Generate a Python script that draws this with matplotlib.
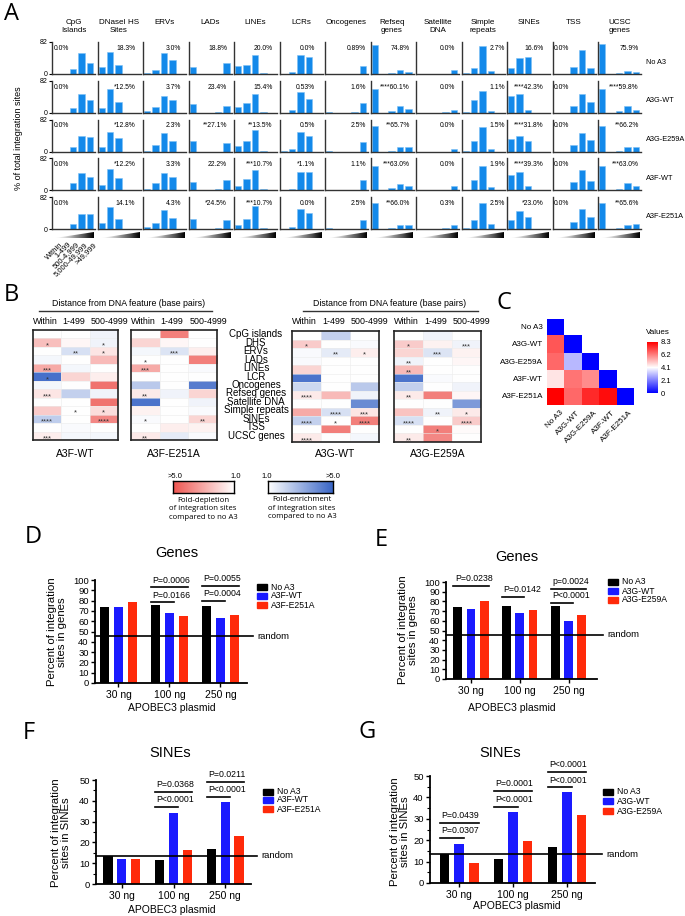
import numpy as np
import matplotlib as mpl
mpl.use('Agg')
import matplotlib.pyplot as plt
from matplotlib.colors import LinearSegmentedColormap
from matplotlib.patches import Polygon, Rectangle
from matplotlib.lines import Line2D

plt.rcParams['font.family'] = ['Liberation Sans', 'DejaVu Sans']

# ---------------- panel A data ----------------
features = ['CpG\nIslands', 'DNaseI HS\nSites', 'ERVs', 'LADs', 'LINEs', 'LCRs', 'Oncogenes',
            'Refseq\ngenes', 'Satellite\nDNA', 'Simple\nrepeats', 'SINEs', 'TSS', 'UCSC\ngenes']
samples_a = ['No A3', 'A3G-WT', 'A3G-E259A', 'A3F-WT', 'A3F-E251A']
dist_bins = ['Within', '1-499', '500-4,999', '5,000-49,999', '>49,999']

no_a3 = [[0, 0, 13, 55, 28], [18.3, 57, 23, 0, 0], [3.0, 9, 53, 36, 0], [18.8, 0, 0, 0, 28],
         [20.0, 23, 49, 3, 0], [0, 6, 49, 43, 0], [0.89, 0, 0, 0, 21], [74.8, 0, 3, 9, 5],
         [0, 0, 0, 0, 9], [2.7, 16, 72, 8, 0], [16.6, 41, 43, 0, 0], [0, 0, 17, 62, 15],
         [75.9, 0, 3, 8, 5]]
a3g_wt = [[0, 0, 13, 47, 32], [12.5, 60, 27, 0, 0], [3.7, 16, 43, 32, 0], [23.4, 0, 0, 3, 18],
          [15.4, 26, 49, 3, 0], [0.53, 7, 54, 35, 0], [1.6, 0, 0, 2, 26], [60.1, 0, 5, 17, 9],
          [0, 0, 0, 2, 7], [1.1, 33, 57, 5, 0], [42.3, 47, 8, 0, 0], [0, 0, 18, 47, 27],
          [59.8, 0, 4, 18, 8]]
a3g_e259a = [[0, 0, 12, 40, 37], [12.8, 51, 34, 0, 0], [2.3, 17, 47, 27, 0], [27.1, 0, 0, 0, 23],
             [13.5, 27, 54, 2, 0], [0.5, 7, 49, 40, 0], [2.5, 0, 0, 0, 24], [65.7, 0, 2, 12, 12],
             [0, 0, 0, 0, 7], [1.5, 26, 62, 7, 0], [31.8, 41, 26, 0, 0], [0, 0, 17, 47, 29],
             [66.2, 0, 2, 12, 12]]
a3f_wt = [[0, 0, 18, 44, 33], [12.2, 55, 31, 0, 0], [3.3, 18, 43, 35, 0], [22.2, 0, 0, 4, 26],
          [10.7, 30, 53, 4, 0], [1.1, 4, 46, 46, 0], [1.1, 0, 0, 0, 27], [63.0, 0, 5, 16, 10],
          [0, 0, 0, 0, 12], [1.9, 25, 62, 8, 0], [39.3, 47, 12, 0, 0], [0, 0, 21, 51, 24],
          [63.0, 0, 4, 18, 10]]
a3f_e251a = [[0, 0, 13, 38, 38], [14.1, 57, 25, 1, 0], [4.3, 16, 48, 29, 0], [24.5, 0, 0, 3, 24],
             [10.7, 26, 58, 3, 0], [0, 5, 51, 41, 0], [2.5, 0, 0, 0, 23], [66.0, 0, 2, 9, 11],
             [0.3, 0, 0, 2, 9], [2.5, 22, 67, 12, 0], [23.0, 47, 31, 0, 0], [0, 0, 18, 50, 30],
             [65.6, 0, 2, 9, 13]]

pct_no_a3 = ['0.0%', '18.3%', '3.0%', '18.8%', '20.0%', '0.0%', '0.89%', '74.8%', '0.0%', '2.7%', '16.6%', '0.0%', '75.9%']
pct_a3g_wt = ['0.0%', '*12.5%', '3.7%', '23.4%', '15.4%', '0.53%', '1.6%', '****60.1%', '0.0%', '1.1%', '****42.3%', '0.0%', '****59.8%']
pct_a3g_e259a = ['0.0%', '*12.8%', '2.3%', '**27.1%', '**13.5%', '0.5%', '2.5%', '**65.7%', '0.0%', '1.5%', '****31.8%', '0.0%', '**66.2%']
pct_a3f_wt = ['0.0%', '*12.2%', '3.3%', '22.2%', '***10.7%', '*1.1%', '1.1%', '***63.0%', '0.0%', '1.9%', '****39.3%', '0.0%', '***63.0%']
pct_a3f_e251a = ['0.0%', '14.1%', '4.3%', '*24.5%', '***10.7%', '0.0%', '2.5%', '**66.0%', '0.3%', '2.5%', '*23.0%', '0.0%', '**65.6%']

# ---------------- panel B data (signed fold change: <0 depletion, >0 enrichment) ----------------
hm_features = ['CpG islands', 'DHS', 'ERVs', 'LADs', 'LINEs', 'LCR', 'Oncogenes', 'Refseq genes',
               'Satellite DNA', 'Simple repeats', 'SINEs', 'TSS', 'UCSC genes']
hm_cols = ['Within', '1-499', '500-4999']
hm_names = ['A3F-WT', 'A3F-E251A', 'A3G-WT', 'A3G-E259A']

fold_a3f_wt = [[1.0, 1.0, 1.3], [-2.5, -1.2, 1.3], [1.0, 1.8, -1.6], [1.2, 1.0, -2.6], [-3.0, 1.2, 1.0],
               [4.7, -2.0, -1.4], [1.2, 1.0, -4.3], [-1.6, 2.2, 1.3], [1.0, 1.0, -4.3], [-2.2, 1.0, -1.8],
               [2.3, 1.0, -3.8], [1.0, 1.1, 1.0], [-1.4, 1.2, 1.2]]
fold_a3f_e251a = [[1.0, -4.0, 1.0], [-2.0, -1.2, 1.0], [1.2, 1.7, -1.4], [1.0, 1.0, -4.0], [-3.0, 1.0, 1.1],
                  [1.0, 1.0, 1.0], [2.4, 1.0, 4.4], [-1.5, 1.3, -2.0], [4.6, 1.0, 1.3], [-1.3, 1.0, 1.1],
                  [1.1, 1.0, -2.0], [1.0, -1.4, -1.3], [-1.5, 1.5, 1.1]]
fold_a3g_wt = [[1.0, 2.2, 1.0], [-2.2, 1.0, 1.1], [1.1, 1.5, -1.4], [1.1, 1.0, 1.0], [-2.0, 1.0, 1.0],
               [4.6, 1.0, 1.0], [2.0, 1.0, 2.4], [-1.5, -2.6, 1.3], [1.0, 1.0, 4.0], [-3.0, 1.8, -1.6],
               [2.2, 1.0, -4.0], [1.0, -4.0, 1.0], [-1.5, 1.0, 1.2]]
fold_a3g_e259a = [[1.0, 1.3, 1.0], [-2.2, -1.3, 1.3], [-2.0, 1.7, -1.3], [1.3, 1.0, -1.2], [-2.6, 1.0, 1.0],
                  [4.6, 1.1, 1.0], [2.2, 1.0, 1.3], [-1.5, -4.0, -1.2], [1.0, 1.0, 3.6], [-2.4, 1.3, -1.5],
                  [1.8, 1.0, -2.2], [1.0, -4.0, -1.1], [-1.5, -3.8, 1.0]]

stars_a3f_wt = [['', '', ''], ['*', '', '*'], ['', '**', '*'], ['', '', ''], ['***', '', ''], ['*', '', ''],
                ['', '', ''], ['***', '', ''], ['', '', ''], ['', '*', '*'], ['****', '', '****'], ['', '', ''],
                ['***', '', '']]
stars_a3f_e251a = [['', '', ''], ['', '', ''], ['', '***', ''], ['*', '', ''], ['***', '', ''], ['', '', ''],
                   ['', '', ''], ['**', '', ''], ['', '', ''], ['', '', ''], ['*', '', '**'], ['', '', ''],
                   ['**', '', '']]
stars_a3g_wt = [['', '', ''], ['*', '', ''], ['', '**', '*'], ['', '', ''], ['', '', ''], ['', '', ''],
                ['', '', ''], ['****', '', ''], ['', '', ''], ['', '****', '***'], ['****', '*', '****'],
                ['', '', ''], ['****', '', '']]
stars_a3g_e259a = [['', '', ''], ['*', '', '***'], ['', '***', ''], ['**', '', ''], ['**', '', ''], ['', '', ''],
                   ['', '', ''], ['**', '', ''], ['', '', ''], ['', '**', '*'], ['****', '', '****'],
                   ['', '*', ''], ['**', '', '']]

# ---------------- panel C data ----------------
c_names = ['No A3', 'A3G-WT', 'A3G-E259A', 'A3F-WT', 'A3F-E251A']
nan = np.nan
c_vals = [[0, nan, nan, nan, nan],
          [6.9, 0, nan, nan, nan],
          [6.6, 3.0, 0, nan, nan],
          [4.6, 6.4, 6.0, 0, nan],
          [8.3, 6.6, 7.6, 8.1, 0]]
c_ticks = [0, 2.1, 4.1, 6.2, 8.3]

# ---------------- panels D-G data ----------------
doses = ['30 ng', '100 ng', '250 ng']
d_noa3 = [74.0, 75.5, 74.8]
d_a3f_wt = [74.0, 67.5, 63.0]
d_a3f_e251a = [79.0, 65.0, 66.0]
e_noa3 = [74.0, 75.5, 74.8]
e_a3g_wt = [72.0, 68.0, 60.1]
e_a3g_e259a = [80.0, 71.5, 65.7]
f_noa3 = [13.6, 11.4, 16.6]
f_a3f_wt = [12.2, 34.3, 39.3]
f_a3f_e251a = [11.8, 16.3, 23.0]
g_noa3 = [13.6, 11.4, 16.6]
g_a3g_wt = [18.1, 33.1, 42.3]
g_a3g_e259a = [9.4, 19.6, 31.8]
random_genes = 45.5
random_sines = 13.5

# (group, compared bar, line height, label)
d_sig = [(1, 'blue', 78.2, 'P=0.0166'), (1, 'red', 92.9, 'P=0.0006'),
         (2, 'blue', 79.9, 'P=0.0004'), (2, 'red', 94.5, 'P=0.0055')]
e_sig = [(0, 'red', 95.9, 'P=0.0238'), (1, 'blue', 84.6, 'P=0.0142'),
         (2, 'blue', 78.8, 'P<0.0001'), (2, 'red', 93.2, 'p=0.0024')]
f_sig = [(1, 'blue', 36.9, 'P<0.0001'), (1, 'red', 44.1, 'P=0.0368'),
         (2, 'blue', 42.0, 'P<0.0001'), (2, 'red', 49.2, 'P=0.0211')]
g_sig = [(0, 'blue', 21.0, 'P=0.0307'), (0, 'red', 28.0, 'P=0.0439'),
         (1, 'blue', 35.7, 'P<0.0001'), (1, 'red', 43.2, 'P=0.0001'),
         (2, 'blue', 44.7, 'P<0.0001'), (2, 'red', 52.0, 'P<0.0001')]

# ================================================================
W, H = 685, 916
fig = plt.figure(figsize=(W / 100, H / 100), dpi=100)


def add_ax(x0, y0, x1, y1):
    return fig.add_axes([x0 / W, 1 - y1 / H, (x1 - x0) / W, (y1 - y0) / H])


def ftext(x, y, s, **kw):
    return fig.text(x / W, 1 - y / H, s, **kw)


def fline(x0, x1, y, lw=1.0, color='#333333'):
    fig.add_artist(Line2D([x0 / W, x1 / W], [1 - y / H, 1 - y / H], color=color, lw=lw))


letter_font = ['Open Sans', 'Liberation Sans']
for lab, x, y in [('A', 4, 14), ('B', 4, 295), ('C', 497, 303), ('D', 25, 537),
                  ('E', 375, 540), ('F', 23, 733), ('G', 358, 732)]:
    ftext(x, y, lab, fontsize=17, va='center', ha='left', family=letter_font)

# ---------------- panel A ----------------
bar_blue = '#1389ea'
a_rows = [no_a3, a3g_wt, a3g_e259a, a3f_wt, a3f_e251a]
a_labels = [pct_no_a3, pct_a3g_wt, pct_a3g_e259a, pct_a3f_wt, pct_a3f_e251a]
lab_x = [0.05, 0.88, 0.88, 0.9, 0.9, 0.82, 0.95, 0.92, 0.92, 1.02, 0.85, 0.02, 0.95]
lab_ha = ['left'] + ['right'] * 10 + ['left', 'right']

for j, f in enumerate(features):
    left = 52 + j * 45.5
    ftext(left + 21.5, 19, f, ha='center', va='top', fontsize=5.8, linespacing=1.15)

for i, (vals, labs) in enumerate(zip(a_rows, a_labels)):
    top = 42 + i * 38.75
    ftext(646, top + 20, samples_a[i], ha='left', va='center', fontsize=5.3)
    for j in range(13):
        left = 52 + j * 45.5
        ax = add_ax(left, top, left + 43, top + 32)
        ax.bar(range(5), vals[j], width=0.75, color=bar_blue, edgecolor='#7cc0f5', linewidth=0.4)
        ax.set_xlim(-0.5, 4.6)
        ax.set_ylim(0, 82)
        for s in ['top', 'right']:
            ax.spines[s].set_visible(False)
        for s in ['left', 'bottom']:
            ax.spines[s].set_linewidth(1.0)
            ax.spines[s].set_color('#333333')
        ax.set_xticks([])
        if j == 0:
            ax.set_yticks([0, 82])
            ax.tick_params(axis='y', labelsize=5, length=2, width=0.8, pad=1)
        else:
            ax.set_yticks([])
        ax.text(lab_x[j], 0.8, labs[j], transform=ax.transAxes, ha=lab_ha[j], va='center',
                fontsize=4.9, clip_on=False)

ftext(19, 138, '% of total integration sites', rotation=90, ha='center', va='center', fontsize=6.5)

# gradient wedges under last row
grad = np.linspace(0, 1, 200)[None, :]
for j in range(13):
    left = 52 + j * 45.5
    wax = add_ax(left + 3, 232, left + 42, 238)
    im = wax.imshow(grad, cmap='Greys', aspect='auto', extent=[0, 1, 0, 1], vmin=0, vmax=1)
    tri = Polygon([[0, 0], [1, 0], [1, 1]], closed=True, transform=wax.transData)
    im.set_clip_path(tri)
    wax.axis('off')

for k, b in enumerate(dist_bins):
    cx = 52 + (k + 0.5) * 8.4
    ftext(cx + 3, 241, b, rotation=45, rotation_mode='anchor', ha='right', va='top', fontsize=5.5)

# ---------------- panel B ----------------
fold_cmap = LinearSegmentedColormap.from_list('fold', ['#ee5550', '#ffffff', '#3a66c6'])
hm_boxes = [(33, 330, 118, 440), (131, 330, 217, 440), (292, 331, 379, 442), (394, 331, 481, 442)]
hm_vals = [fold_a3f_wt, fold_a3f_e251a, fold_a3g_wt, fold_a3g_e259a]
hm_stars = [stars_a3f_wt, stars_a3f_e251a, stars_a3g_wt, stars_a3g_e259a]

for (x0, y0, x1, y1), vals, stars, name in zip(hm_boxes, hm_vals, hm_stars, hm_names):
    ax = add_ax(x0, y0, x1, y1)
    arr = np.array(vals)
    t = np.sign(arr) * np.clip((np.abs(arr) - 1) / 4.0, 0, 1)
    ax.imshow(t, cmap=fold_cmap, vmin=-1, vmax=1, aspect='auto', extent=[0, 3, 13, 0],
              interpolation='nearest')
    for k in range(1, 13):
        ax.axhline(k, color='#ececec', lw=0.4)
    for k in (1, 2):
        ax.axvline(k, color='#ececec', lw=0.4)
    for r in range(13):
        for c in range(3):
            if stars[r][c]:
                ax.text(c + 0.5, r + 0.85, stars[r][c], ha='center', va='center', fontsize=5.5,
                        color='#333333')
    ax.set_xlim(0, 3)
    ax.set_ylim(13, 0)
    ax.set_xticks([])
    ax.set_yticks([])
    for s in ax.spines.values():
        s.set_linewidth(1.2)
        s.set_color('#222222')
    cw = (x1 - x0) / 3.0
    for c, h in enumerate(hm_cols):
        ftext(x0 + c * cw + (0 if c == 0 else 1), 322, h, ha='left', va='center', fontsize=6.4)
    ftext((x0 + x1) / 2, 454, name, ha='center', va='center', fontsize=7.5)

for r, f in enumerate(hm_features):
    ftext(256, 330 + (r + 0.5) * 110 / 13.0, f, ha='center', va='center', fontsize=7)

ftext(129, 303, 'Distance from DNA feature (base pairs)', ha='center', va='center', fontsize=6.3)
fline(39, 212, 311, lw=1.0)
ftext(390, 303, 'Distance from DNA feature (base pairs)', ha='center', va='center', fontsize=6.3)
fline(303, 478, 311, lw=1.0)

# fold legend boxes
lax = add_ax(173, 481, 234, 493)
lax.imshow(np.linspace(-1, 0, 200)[None, :], cmap=fold_cmap, vmin=-1, vmax=1, aspect='auto')
rax = add_ax(268, 481, 333, 493)
rax.imshow(np.linspace(0, 1, 200)[None, :], cmap=fold_cmap, vmin=-1, vmax=1, aspect='auto')
for a in (lax, rax):
    a.set_xticks([])
    a.set_yticks([])
    for s in a.spines.values():
        s.set_linewidth(1.0)
for x, s in [(175, '>5.0'), (236, '1.0'), (267, '1.0'), (333, '>5.0')]:
    ftext(x, 476, s, ha='center', va='center', fontsize=5.5)
ftext(203, 497, 'Fold-depletion\nof integration sites\ncompared to no A3', ha='center', va='top',
      fontsize=5.6, linespacing=1.3, family=letter_font)
ftext(302, 496, 'Fold-enrichment\nof integration sites\ncompared to no A3', ha='center', va='top',
      fontsize=5.6, linespacing=1.3, family=letter_font)

# ---------------- panel C ----------------
c_cmap = LinearSegmentedColormap.from_list('cvals', ['#0000ff', '#ffffff', '#ff0000'])
cs = 17.3
c_ax = add_ax(547, 319, 547 + 5 * cs, 319 + 5 * cs)
cim = c_ax.imshow(np.ma.masked_invalid(np.array(c_vals)), cmap=c_cmap, vmin=0, vmax=8.3,
                  extent=[0, 5, 5, 0], interpolation='nearest')
c_ax.axis('off')
for i, n in enumerate(c_names):
    ftext(543, 319 + (i + 0.5) * cs, n, ha='right', va='center', fontsize=5.8)
    ftext(547 + (i + 0.5) * cs + 4, 409, n, rotation=45, rotation_mode='anchor', ha='right',
          va='top', fontsize=5.8)
cb_ax = add_ax(647, 342, 658, 393)
cb = fig.colorbar(cim, cax=cb_ax, ticks=c_ticks)
cb.outline.set_visible(False)
cb_ax.tick_params(length=0, labelsize=5.5, pad=2)
cb_ax.set_yticklabels(['0', '2.1', '4.1', '6.2', '8.3'])
ftext(646, 333, 'Values', ha='left', va='center', fontsize=5.8)

# ---------------- panels D-G ----------------
c_black, c_blue, c_red = '#000000', '#1a1aff', '#ff2a0a'
off, bw = 0.27, 0.18


def bar_panel(box, xlim, ylim, ystep, minor, blacks, blues, reds, rnd, sig):
    ax = add_ax(*box)
    x = np.arange(3)
    ax.bar(x - off, blacks, bw, color=c_black)
    ax.bar(x, blues, bw, color=c_blue)
    ax.bar(x + off, reds, bw, color=c_red)
    ax.set_xlim(*xlim)
    ax.set_ylim(*ylim)
    ax.set_yticks(np.arange(ylim[0], ylim[1] + 1, ystep))
    if minor:
        ax.set_yticks(np.arange(5, ylim[1], 10), minor=True)
        ax.tick_params(axis='y', which='minor', length=2, width=0.8)
    ax.set_xticks(x)
    ax.set_xticklabels(doses)
    ax.tick_params(axis='y', labelsize=6.8, length=3, width=1, pad=1.5)
    ax.tick_params(axis='x', labelsize=7.5, length=3, width=1, pad=2)
    for s in ['top', 'right']:
        ax.spines[s].set_visible(False)
    for s in ['left', 'bottom']:
        ax.spines[s].set_linewidth(1.3)
    tr = ax.get_yaxis_transform()
    ax.plot([0, 1.04], [rnd, rnd], color='k', lw=1.2, transform=tr, clip_on=False)
    ax.text(1.07, rnd, 'random', transform=tr, ha='left', va='center', fontsize=6.8)
    for g, tgt, y, s in sig:
        xs = g - off - bw / 2
        xe = (g if tgt == 'blue' else g + off) + bw / 2
        ax.plot([xs, xe], [y, y], color='k', lw=1.2, clip_on=False)
        ax.annotate(s, (xs + 0.03, y), xytext=(0, 2), textcoords='offset points', ha='left',
                    va='bottom', fontsize=6.3, annotation_clip=False)
    return ax


def legend(x, ys, labels):
    for y, lab, col in zip(ys, labels, [c_black, c_blue, c_red]):
        fig.add_artist(Rectangle((x / W, 1 - (y + 3) / H), 10 / W, 6 / H, color=col,
                                 transform=fig.transFigure))
        ftext(x + 14, y, lab, ha='left', va='center', fontsize=6.2)


bar_panel((95, 580, 247, 683), (-0.46, 2.52), (0, 100), 10, False,
          d_noa3, d_a3f_wt, d_a3f_e251a, random_genes, d_sig)
ftext(177, 553, 'Genes', ha='center', va='center', fontsize=10.5)
ftext(57, 632, 'Percent of integration\nsites in genes', rotation=90, ha='center', va='center',
      fontsize=8.2, linespacing=1.1)
ftext(172, 708, 'APOBEC3 plasmid', ha='center', va='center', fontsize=7.5)
legend(257, [587, 596, 605], ['No A3', 'A3F-WT', 'A3F-E251A'])

bar_panel((446, 582, 597, 679), (-0.51, 2.58), (0, 100), 10, False,
          e_noa3, e_a3g_wt, e_a3g_e259a, random_genes, e_sig)
ftext(517, 557, 'Genes', ha='center', va='center', fontsize=10.5)
ftext(408, 630, 'Percent of integration\nsites in genes', rotation=90, ha='center', va='center',
      fontsize=8.2, linespacing=1.1)
ftext(512, 708, 'APOBEC3 plasmid', ha='center', va='center', fontsize=7.5)
legend(608, [582, 591, 600], ['No A3', 'A3G-WT', 'A3G-E259A'])

bar_panel((96, 780, 251, 884), (-0.50, 2.50), (0, 50), 10, True,
          f_noa3, f_a3f_wt, f_a3f_e251a, random_sines, f_sig)
ftext(170, 753, 'SINEs', ha='center', va='center', fontsize=10.5)
ftext(61, 833, 'Percent of integration\nsites in SINEs', rotation=90, ha='center', va='center',
      fontsize=8.2, linespacing=1.1)
ftext(172, 910, 'APOBEC3 plasmid', ha='center', va='center', fontsize=7.5)
legend(263, [792, 800, 809], ['No A3', 'A3F-WT', 'A3F-E251A'])

bar_panel((430, 776, 595, 883), (-0.54, 2.52), (0, 50), 10, True,
          g_noa3, g_a3g_wt, g_a3g_e259a, random_sines, g_sig)
ftext(500, 753, 'SINEs', ha='center', va='center', fontsize=10.5)
ftext(400, 832, 'Percent of integration\nsites in SINEs', rotation=90, ha='center', va='center',
      fontsize=8.2, linespacing=1.1)
ftext(517, 906, 'APOBEC3 plasmid', ha='center', va='center', fontsize=7.5)
legend(603, [792, 801, 811], ['No A3', 'A3G-WT', 'A3G-E259A'])

fig.savefig('out.png', dpi=100)
